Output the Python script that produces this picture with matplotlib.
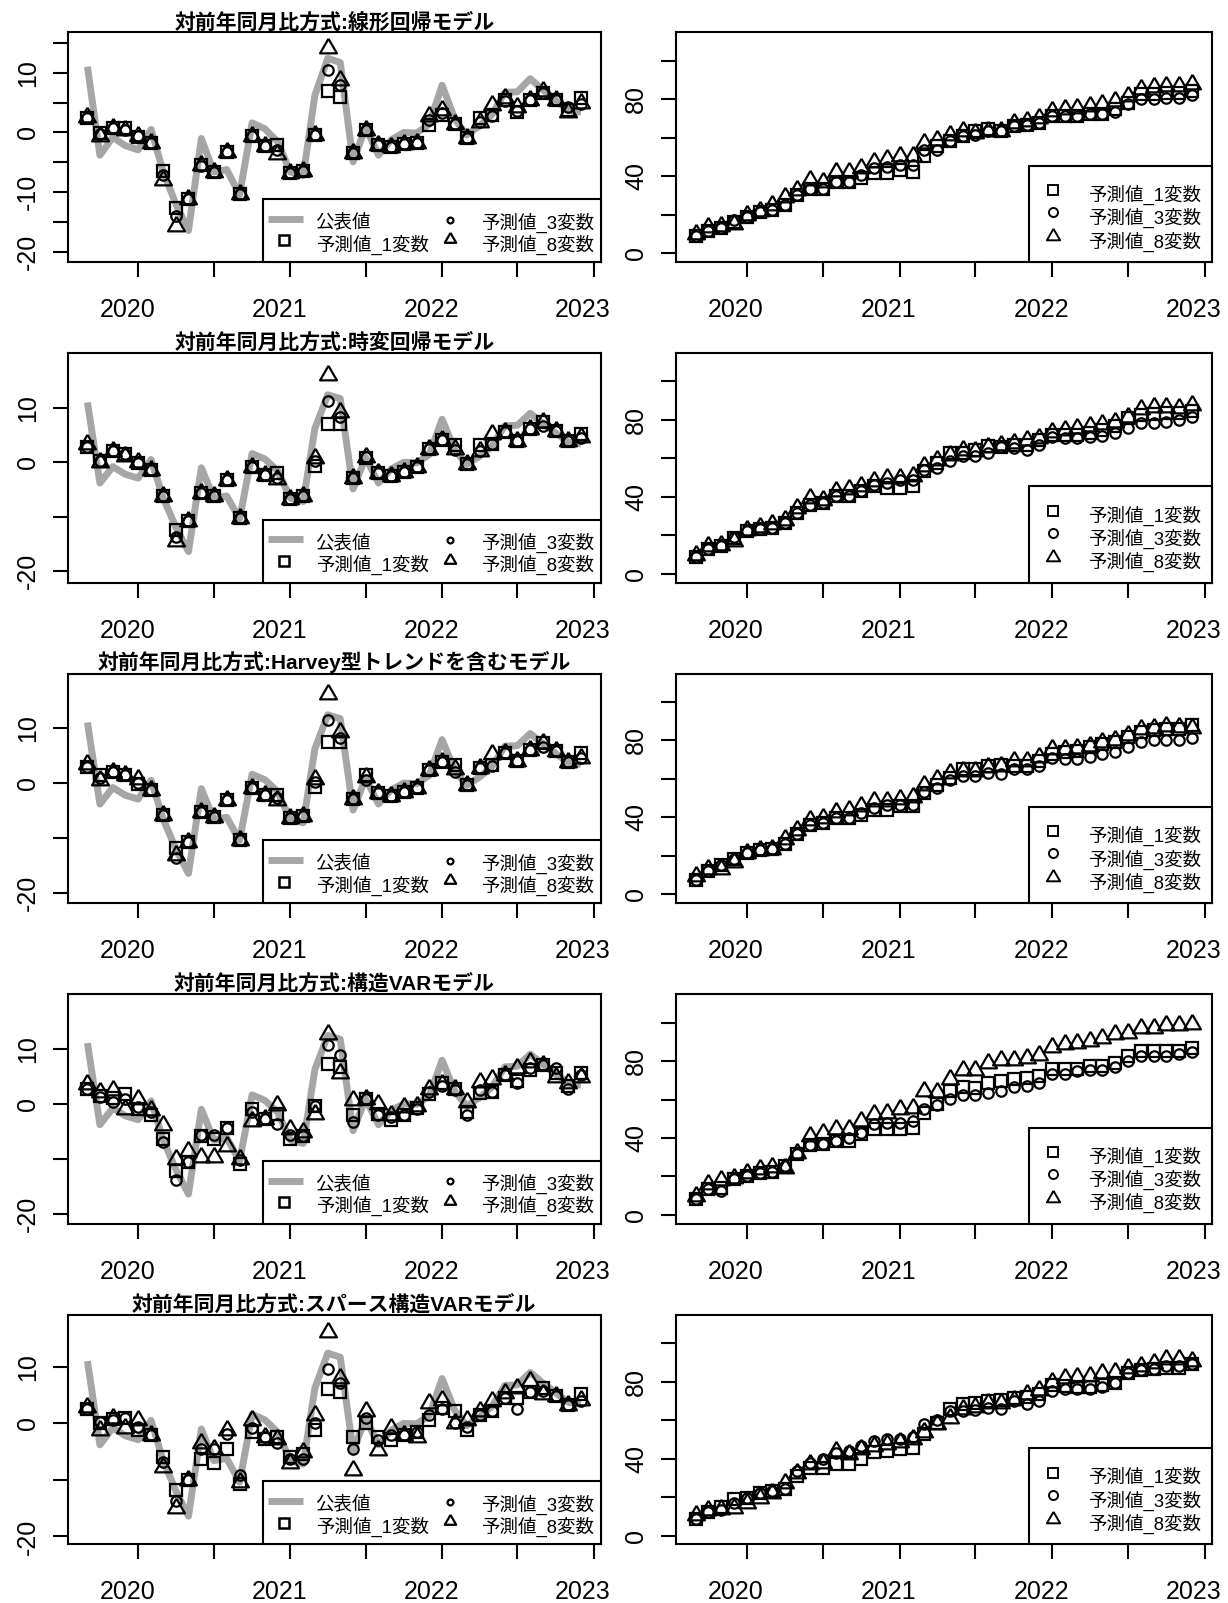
import numpy as np
import pandas as pd
import matplotlib
matplotlib.use('Agg')
import matplotlib.pyplot as plt
from matplotlib.transforms import blended_transform_factory, ScaledTranslation
from matplotlib.patches import Rectangle

plt.rcParams['font.family'] = ['Liberation Sans', 'Noto Sans CJK JP']

# 月次 2019-09 ～ 2022-12
months = pd.date_range('2019-09-01', periods=40, freq='MS')
years = [2020, 2021, 2022, 2023]

# 公表値 (対前年同月比)
actual = [11.0, -3.8, -0.8, -2.2, -2.9, 0.5, -6.5, -12.0, -16.4, -1.0,
          -6.6, -6.2, -10.4, 1.6, 0.6, -1.5, -6.6, -7.2, 6.2, 12.4,
          11.7, -4.9, 0.9, -3.8, -1.2, 0.0, -0.1, 1.4, 7.9, 2.2,
          -0.4, 1.1, 3.0, 6.7, 6.8, 9.0, 7.1, 5.4, 3.7, 3.4]

titles = ['対前年同月比方式:線形回帰モデル',
          '対前年同月比方式:時変回帰モデル',
          '対前年同月比方式:Harvey型トレンドを含むモデル',
          '対前年同月比方式:構造VARモデル',
          '対前年同月比方式:スパース構造VARモデル']

# 線形回帰
lin_yoy_1 = [2.4, -0.1, 0.8, 0.7, -0.7, -1.8, -6.4, -12.6, -11.1, -5.4, -6.6, -3.2, -10.3, -0.6, -2.2, -2.1, -6.8, -6.4, -0.4, 6.9,
             6.0, -3.5, 0.4, -2.1, -2.5, -1.9, -1.8, 1.3, 3.0, 1.4, -0.9, 2.4, 3.0, 5.5, 3.5, 5.5, 6.6, 5.5, 3.8, 5.7]
lin_yoy_3 = [2.4, -0.3, 0.8, 0.5, -0.6, -1.8, -7.1, -14.0, -11.1, -5.6, -6.6, -3.3, -10.3, -0.6, -2.2, -2.9, -6.8, -6.5, -0.4, 10.5,
             8.0, -3.5, 0.4, -2.1, -2.5, -1.9, -1.8, 2.1, 3.2, 1.4, -0.9, 1.8, 2.8, 5.3, 3.6, 5.5, 6.6, 5.5, 4.2, 4.8]
lin_yoy_8 = [2.6, -0.6, 0.8, 0.4, -0.6, -1.8, -7.9, -15.7, -11.1, -5.4, -6.6, -3.3, -10.3, -0.6, -2.2, -3.6, -6.8, -6.5, -0.4, 14.1,
             8.8, -3.5, 0.4, -2.1, -2.5, -1.9, -1.8, 2.7, 3.8, 1.4, -0.9, 1.8, 4.6, 5.7, 4.2, 5.5, 7.0, 5.5, 3.5, 5.0]
lin_lvl_1 = [9.1, 11.7, 13.0, 16.0, 18.7, 21.4, 22.2, 24.9, 30.1, 33.6, 33.6, 37.1, 37.1, 38.9, 41.5, 41.5, 43.3, 42.4, 50.3, 55.5,
             58.1, 60.8, 63.4, 64.3, 63.7, 66.0, 66.4, 67.8, 71.3, 71.3, 71.3, 72.2, 72.5, 75.1, 77.9, 82.7, 82.7, 83.0, 83.2, 84.4]
lin_lvl_3 = [9.1, 11.7, 13.0, 17.0, 18.7, 21.4, 22.2, 24.9, 30.1, 33.6, 33.6, 37.1, 37.1, 40.6, 44.1, 45.0, 45.9, 45.9, 53.8, 53.8,
             58.1, 60.8, 61.6, 63.4, 63.7, 66.0, 66.4, 67.8, 71.3, 71.3, 71.3, 72.2, 72.5, 73.4, 77.5, 80.0, 80.0, 80.9, 80.4, 82.1]
lin_lvl_8 = [10.0, 13.5, 14.0, 15.2, 19.6, 22.0, 24.9, 29.2, 32.7, 38.0, 37.1, 42.4, 42.4, 44.1, 47.6, 48.9, 50.3, 50.3, 57.3, 59.0,
             61.6, 63.4, 62.5, 63.4, 63.7, 67.4, 68.6, 70.4, 73.9, 74.8, 75.7, 76.5, 77.4, 79.2, 81.8, 85.3, 86.2, 86.7, 86.7, 87.9]

# 時変回帰
tvr_yoy_1 = [2.9, 0.3, 2.0, 1.5, -0.2, -1.5, -6.1, -12.5, -10.7, -5.7, -6.1, -3.3, -10.3, -0.9, -2.3, -2.0, -6.7, -6.1, -0.7, 7.1,
             7.1, -2.8, 0.8, -2.0, -2.5, -1.8, -0.9, 2.5, 4.1, 3.1, -0.3, 3.1, 3.4, 5.5, 4.0, 6.1, 7.4, 5.8, 4.0, 5.2]
tvr_yoy_3 = [2.9, 0.3, 2.0, 1.5, -0.2, -1.5, -6.1, -13.8, -10.7, -5.7, -6.1, -3.3, -10.3, -0.9, -2.3, -2.8, -6.7, -6.1, 0.2, 11.3,
             8.3, -2.8, 0.9, -2.0, -2.5, -1.8, -0.9, 2.5, 4.1, 2.2, -0.3, 2.0, 3.4, 5.5, 4.0, 6.1, 6.7, 5.8, 4.0, 4.5]
tvr_yoy_8 = [3.3, 0.0, 2.1, 1.2, 0.0, -1.5, -6.1, -14.4, -10.7, -5.7, -6.1, -3.3, -10.3, -0.9, -2.3, -3.1, -6.7, -6.1, 0.7, 16.0,
             9.2, -2.8, 0.9, -2.0, -2.5, -1.8, -0.9, 2.5, 4.1, 2.5, -0.3, 2.1, 5.2, 5.5, 4.0, 6.1, 7.4, 5.8, 4.0, 4.6]
tvr_lvl_1 = [8.7, 12.8, 14.5, 18.5, 22.0, 23.2, 23.7, 26.3, 31.5, 35.8, 36.7, 40.5, 40.5, 42.8, 45.4, 44.5, 44.5, 45.7, 53.2, 57.5,
             62.7, 62.7, 64.4, 66.5, 65.8, 67.0, 67.0, 69.6, 72.2, 72.2, 72.2, 73.1, 74.8, 76.9, 80.9, 82.6, 83.1, 83.5, 83.5, 84.8]
tvr_lvl_3 = [8.7, 12.8, 14.5, 19.0, 22.0, 23.2, 23.7, 26.3, 31.5, 35.8, 36.7, 40.5, 40.5, 42.8, 46.2, 47.1, 48.8, 48.5, 54.0, 54.9,
             58.4, 61.0, 61.0, 63.0, 65.8, 65.3, 64.4, 67.0, 71.0, 70.5, 70.5, 71.3, 71.7, 73.1, 75.7, 78.6, 78.6, 79.1, 80.0, 81.4]
tvr_lvl_8 = [9.9, 14.2, 15.0, 16.8, 22.9, 24.2, 26.0, 28.0, 34.1, 39.3, 38.4, 42.8, 44.0, 45.4, 48.0, 49.7, 49.7, 50.9, 55.8, 59.2,
             61.8, 64.4, 64.0, 65.8, 67.0, 68.2, 69.6, 70.5, 73.9, 74.8, 75.7, 76.9, 77.9, 79.1, 81.4, 85.5, 86.6, 86.6, 86.1, 87.8]

# Harvey型トレンド
hv_yoy_1 = [3.0, 1.5, 2.0, 1.4, -0.2, -1.2, -5.8, -11.8, -10.6, -5.3, -6.1, -3.0, -10.4, -0.9, -2.2, -2.1, -6.4, -5.9, -0.7, 7.5,
            7.5, -2.8, 1.4, -1.8, -2.4, -1.7, -0.9, 2.4, 3.8, 3.3, -0.3, 2.8, 3.3, 5.5, 4.1, 6.1, 7.3, 5.8, 3.8, 5.5]
hv_yoy_3 = [3.0, 1.0, 2.0, 1.4, 0.0, -1.2, -5.8, -13.6, -10.6, -5.3, -6.1, -3.0, -10.4, -0.9, -2.2, -2.7, -6.4, -5.9, 0.2, 11.5,
            8.2, -2.8, 0.6, -1.8, -2.4, -1.7, -0.9, 2.4, 3.8, 2.0, -0.3, 2.8, 3.1, 5.5, 4.1, 6.1, 6.6, 5.8, 3.8, 4.5]
hv_yoy_8 = [3.4, 0.6, 2.0, 1.4, 0.8, -1.2, -5.8, -13.0, -10.6, -5.3, -6.1, -3.0, -10.4, -0.9, -2.2, -3.0, -6.4, -5.9, 0.8, 16.2,
            9.3, -2.8, 1.2, -1.8, -2.4, -1.7, -0.9, 2.4, 3.8, 2.6, -0.3, 2.8, 5.2, 5.5, 4.1, 6.1, 7.3, 5.8, 3.8, 4.6]
hv_lvl_1 = [7.6, 12.3, 15.3, 18.5, 21.4, 22.8, 23.7, 26.4, 31.6, 36.0, 36.9, 39.5, 39.5, 41.3, 43.9, 43.9, 45.7, 45.7, 52.7, 57.1,
            60.6, 65.0, 65.0, 66.8, 67.3, 66.8, 66.8, 69.1, 72.9, 73.8, 74.7, 76.8, 77.9, 79.1, 81.7, 84.4, 85.2, 86.1, 86.1, 87.9]
hv_lvl_3 = [7.6, 12.3, 15.3, 18.5, 21.4, 22.8, 23.7, 26.4, 31.6, 36.0, 36.9, 39.5, 39.5, 42.2, 44.8, 46.6, 46.6, 46.6, 53.3, 55.4,
            59.2, 61.5, 61.5, 63.3, 62.4, 65.0, 65.0, 66.8, 70.8, 70.3, 70.3, 71.5, 72.9, 73.8, 76.4, 79.1, 80.3, 80.3, 80.0, 81.4]
hv_lvl_8 = [9.3, 13.0, 13.2, 16.7, 21.4, 22.8, 23.7, 29.0, 33.4, 38.7, 39.5, 43.0, 43.9, 45.7, 48.3, 48.7, 49.7, 50.4, 57.1, 59.8,
            63.3, 64.0, 64.1, 66.3, 66.8, 69.1, 69.1, 71.5, 75.6, 75.6, 76.1, 77.3, 79.1, 80.3, 82.6, 86.1, 86.6, 87.3, 87.0, 86.6]

# 構造VAR
svar_yoy_1 = [2.7, 1.4, 1.0, 1.7, -0.9, -2.1, -6.4, -12.3, -10.6, -5.8, -6.4, -4.4, -10.9, -0.9, -2.7, -1.8, -6.4, -5.8, -0.4, 7.3,
              6.7, -2.1, 0.8, -1.8, -3.0, -2.1, -0.7, 1.8, 3.8, 2.6, -1.5, 2.0, 2.1, 5.2, 4.2, 6.1, 7.0, 5.5, 3.2, 5.5]
svar_yoy_3 = [2.7, 1.2, 0.4, 0.9, -0.6, -1.5, -7.0, -13.9, -10.6, -5.7, -5.6, -4.4, -10.3, -1.5, -2.7, -3.6, -5.6, -5.8, -0.4, 10.6,
              8.9, -3.3, 0.9, -2.1, -2.4, -2.1, -0.9, 2.1, 3.3, 2.4, -2.1, 2.4, 2.1, 5.2, 3.8, 6.5, 7.0, 6.5, 2.7, 5.2]
svar_yoy_8 = [3.6, 2.1, 2.4, -0.9, 0.9, -1.2, -3.9, -10.0, -8.5, -9.7, -9.7, -7.6, -10.1, -3.2, -2.7, -0.3, -4.5, -5.2, -1.8, 12.7,
              5.5, 0.6, 0.9, 0.0, -2.1, -0.6, -0.4, 2.7, 3.6, 2.6, 0.3, 3.9, 4.5, 5.2, 6.5, 7.6, 7.0, 4.8, 3.8, 4.8]
svar_lvl_1 = [8.5, 13.3, 14.2, 18.5, 20.3, 21.7, 22.4, 25.5, 31.5, 36.2, 36.7, 38.5, 38.5, 41.9, 44.9, 44.5, 44.5, 45.4, 53.2, 57.5,
              64.5, 66.7, 66.2, 68.8, 69.7, 70.9, 71.4, 72.3, 76.1, 76.1, 76.1, 77.5, 77.5, 79.2, 82.7, 85.3, 85.3, 85.3, 85.3, 87.0]
svar_lvl_3 = [8.5, 13.3, 12.5, 18.5, 20.3, 21.7, 22.4, 25.5, 31.5, 36.2, 36.7, 38.5, 40.2, 42.8, 47.1, 48.0, 48.0, 48.9, 54.9, 57.0,
              60.1, 62.2, 62.2, 63.3, 64.5, 66.7, 67.1, 68.5, 73.1, 73.1, 74.9, 75.4, 75.4, 77.1, 80.1, 82.7, 82.7, 82.7, 83.5, 84.7]
svar_lvl_8 = [9.9, 15.9, 18.2, 19.0, 22.0, 23.7, 25.1, 24.6, 32.4, 41.1, 42.8, 44.5, 44.9, 48.9, 52.3, 52.9, 54.9, 55.8, 64.5, 64.0,
              70.5, 75.4, 75.4, 79.2, 80.6, 80.6, 81.8, 83.0, 87.5, 88.7, 89.3, 90.5, 92.2, 93.9, 94.8, 97.4, 97.4, 98.6, 98.6, 99.1]

# スパース構造VAR
ssvar_yoy_1 = [2.5, 0.0, 0.8, 0.9, -1.2, -2.1, -6.0, -11.8, -10.1, -6.3, -7.0, -4.6, -10.7, -1.5, -2.7, -2.4, -6.0, -5.5, -1.2, 6.0,
               5.5, -2.4, 0.0, -2.5, -2.9, -2.1, -1.5, 0.6, 2.7, 2.1, -1.2, 1.5, 2.2, 4.5, 4.5, 5.5, 6.2, 4.8, 3.3, 5.1]
ssvar_yoy_3 = [2.5, 0.3, 0.6, 0.9, -0.7, -2.1, -6.8, -13.7, -10.1, -4.5, -4.5, -1.8, -9.2, -0.9, -2.4, -3.5, -6.3, -6.3, 0.0, 9.6,
               7.1, -4.6, 0.9, -2.9, -2.1, -2.1, -1.5, 1.5, 2.5, 0.0, -0.7, 1.5, 2.2, 4.5, 2.5, 5.5, 5.8, 4.8, 3.3, 3.9]
ssvar_yoy_8 = [2.8, -1.2, 0.9, -0.9, 0.6, -2.1, -7.7, -14.9, -10.1, -3.5, -4.5, -1.1, -10.4, 0.6, -2.4, -2.7, -7.1, -5.1, 1.5, 16.2,
               8.0, -8.2, 2.1, -4.8, -0.9, -2.1, -2.5, 3.6, 4.2, 0.1, 0.6, 2.1, 3.9, 5.4, 6.2, 7.4, 5.1, 4.8, 3.3, 4.2]
ssvar_lvl_1 = [8.7, 12.2, 14.9, 19.1, 19.6, 22.2, 23.1, 24.3, 30.9, 35.2, 35.2, 37.0, 37.0, 39.6, 43.4, 43.9, 44.8, 45.7, 52.6, 58.7,
               65.6, 68.2, 68.8, 70.0, 70.5, 71.7, 72.2, 73.4, 78.1, 77.8, 77.4, 77.4, 78.1, 79.5, 84.7, 86.1, 86.8, 87.3, 87.3, 89.1]
ssvar_lvl_3 = [8.7, 12.2, 13.5, 17.0, 19.6, 22.2, 23.1, 24.3, 33.5, 37.8, 39.6, 43.1, 43.9, 46.5, 49.1, 50.3, 50.3, 51.4, 57.8, 60.1,
               64.8, 64.8, 65.3, 66.5, 65.6, 70.0, 68.2, 70.0, 75.2, 76.4, 76.0, 76.4, 77.4, 79.5, 84.4, 86.1, 86.5, 88.2, 88.2, 89.1]
ssvar_lvl_8 = [10.9, 13.5, 14.0, 14.4, 16.7, 19.6, 21.9, 27.4, 32.6, 37.0, 37.8, 43.9, 42.2, 44.8, 46.5, 47.4, 48.6, 50.3, 53.8, 57.8,
               61.3, 65.6, 67.0, 68.8, 69.1, 70.5, 73.4, 75.7, 79.9, 82.1, 82.6, 83.0, 84.4, 85.1, 87.3, 88.2, 89.6, 92.0, 92.0, 90.8]

yoy = [(lin_yoy_1, lin_yoy_3, lin_yoy_8), (tvr_yoy_1, tvr_yoy_3, tvr_yoy_8),
       (hv_yoy_1, hv_yoy_3, hv_yoy_8), (svar_yoy_1, svar_yoy_3, svar_yoy_8),
       (ssvar_yoy_1, ssvar_yoy_3, ssvar_yoy_8)]
lvl = [(lin_lvl_1, lin_lvl_3, lin_lvl_8), (tvr_lvl_1, tvr_lvl_3, tvr_lvl_8),
       (hv_lvl_1, hv_lvl_3, hv_lvl_8), (svar_lvl_1, svar_lvl_3, svar_lvl_8),
       (ssvar_lvl_1, ssvar_lvl_3, ssvar_lvl_8)]

# 見た目の設定
yoy_ylims = [(-21.65, 16.75), (-22.1, 20.1), (-21.8, 19.9), (-21.8, 19.9), (-21.4, 19.2)]
lvl_ylim = (-4.6, 114.8)
TRI = [(0, 1), (-0.866, -0.5), (0.866, -0.5), (0, 1)]
GREY = '#a6a6a6'
W, H = 1228, 1603
ROW = H / 5.0
TICKFS = 18
LEGFS = 13.3

d0 = months[0]
d1 = months[-1]
span = d1 - d0
xlim = (d0 - span * 0.04, d1 + span * 0.04)

fig = plt.figure(figsize=(W / 100, H / 100), dpi=100)


def px_axes(x0, x1, top, bottom):
    return fig.add_axes([x0 / W, 1 - bottom / H, (x1 - x0) / W, (bottom - top) / H])


def style_axes(ax):
    ax.set_xlim(xlim)
    for s in ax.spines.values():
        s.set_linewidth(1.5)
    xt = [pd.Timestamp(f'{y}-01-01') for y in years] + [pd.Timestamp(f'{y}-07-01') for y in years[:-1]]
    ax.set_xticks(xt)
    ax.set_xticklabels([''] * len(xt))
    ax.tick_params(axis='both', direction='out', length=10.5, width=1.5, labelsize=TICKFS)
    ax.tick_params(axis='y', pad=9.5, labelrotation=90)
    for lab in ax.get_yticklabels():
        lab.set_va('center')
    # 年ラベルは目盛りより少し左、かなり下に置かれている
    tr = blended_transform_factory(ax.transData, ax.transAxes) + \
        ScaledTranslation(-11 / 100, 0, fig.dpi_scale_trans)
    for y in years:
        ax.text(pd.Timestamp(f'{y}-01-01'), -0.209, str(y), transform=tr,
                ha='center', va='center', fontsize=TICKFS)


def draw_points(ax, s1, s3, s8):
    ax.plot(months, s1, linestyle='none', marker='s', ms=8, mfc='none', mec='black', mew=1.6)
    ax.plot(months, s3, linestyle='none', marker='o', ms=7.5, mfc='none', mec='black', mew=1.6)
    ax.plot(months, s8, linestyle='none', marker=TRI, ms=14, mfc='none', mec='black', mew=1.6)


def leg_marker(ax, x, y, m, ms, mew):
    ax.plot([x], [y], transform=ax.transAxes, linestyle='none', marker=m, ms=ms,
            mfc='none', mec='black', mew=mew, clip_on=False, zorder=11)


for r in range(5):
    top = 32.3 + r * ROW
    bot = 262.0 + r * ROW
    s1, s3, s8 = yoy[r]

    # 左: 対前年同月比
    ax = px_axes(67.7, 600.7, top, bot)
    ax.plot(months, actual, color=GREY, lw=5.0, solid_capstyle='butt', zorder=1)
    draw_points(ax, s1, s3, s8)
    ax.set_ylim(yoy_ylims[r])
    if r == 0:
        ax.set_yticks([-20, -15, -10, -5, 0, 5, 10, 15])
        ax.set_yticklabels(['-20', '', '-10', '', '0', '', '10', ''])
    else:
        ax.set_yticks([-20, -10, 0, 10])
        ax.set_yticklabels(['-20', '', '0', '10'])
    style_axes(ax)
    ax.set_title(titles[r], fontsize=15, fontweight='bold', pad=2)

    ax.add_patch(Rectangle((0.3664, 0), 1 - 0.3664, 0.274, transform=ax.transAxes,
                           facecolor='white', edgecolor='black', lw=1.5, zorder=10, clip_on=False))
    ax.plot([0.375, 0.442], [0.188, 0.188], transform=ax.transAxes, color=GREY, lw=5.0,
            solid_capstyle='butt', clip_on=False, zorder=11)
    leg_marker(ax, 0.406, 0.094, 's', 7, 1.8)
    leg_marker(ax, 0.717, 0.185, 'o', 4.2, 1.6)
    leg_marker(ax, 0.717, 0.100, TRI, 9.5, 1.6)
    ax.text(0.465, 0.172, '公表値', transform=ax.transAxes, fontsize=LEGFS, va='center', zorder=12)
    ax.text(0.465, 0.076, '予測値_1変数', transform=ax.transAxes, fontsize=LEGFS, va='center', zorder=12)
    ax.text(0.776, 0.172, '予測値_3変数', transform=ax.transAxes, fontsize=LEGFS, va='center', zorder=12)
    ax.text(0.776, 0.076, '予測値_8変数', transform=ax.transAxes, fontsize=LEGFS, va='center', zorder=12)

    # 右: 水準
    l1, l3, l8 = lvl[r]
    ax2 = px_axes(676.0, 1211.6, top, bot)
    draw_points(ax2, l1, l3, l8)
    ax2.set_ylim(lvl_ylim)
    ax2.set_yticks([0, 20, 40, 60, 80, 100])
    ax2.set_yticklabels(['0', '', '40', '', '80', ''])
    style_axes(ax2)

    ax2.add_patch(Rectangle((0.659, 0), 1 - 0.659, 0.419, transform=ax2.transAxes,
                            facecolor='white', edgecolor='black', lw=1.5, zorder=10, clip_on=False))
    leg_marker(ax2, 0.704, 0.313, 's', 7.5, 1.4)
    leg_marker(ax2, 0.704, 0.217, 'o', 6.5, 1.4)
    leg_marker(ax2, 0.704, 0.112, TRI, 11, 1.4)
    ax2.text(0.770, 0.292, '予測値_1変数', transform=ax2.transAxes, fontsize=LEGFS, va='center', zorder=12)
    ax2.text(0.770, 0.190, '予測値_3変数', transform=ax2.transAxes, fontsize=LEGFS, va='center', zorder=12)
    ax2.text(0.770, 0.089, '予測値_8変数', transform=ax2.transAxes, fontsize=LEGFS, va='center', zorder=12)

fig.savefig('out.png', dpi=100)
